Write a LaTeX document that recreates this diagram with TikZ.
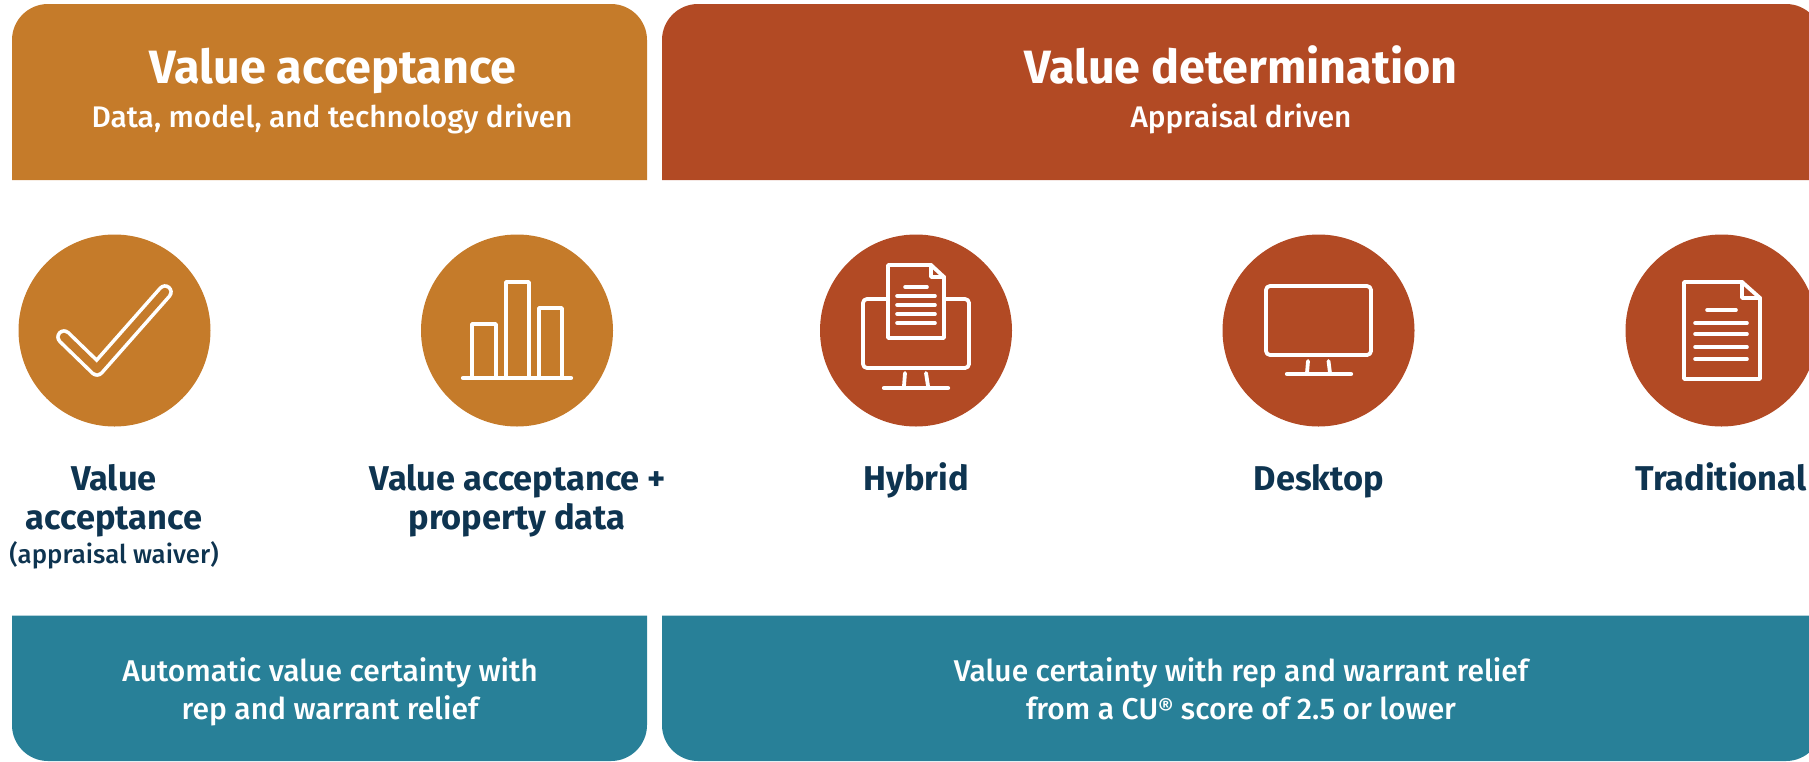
\documentclass[tikz,border=0pt]{standalone}
\usepackage{fontspec}
\setmainfont{Fira Sans}
\newfontfamily\medfont{Fira Sans Medium}
\definecolor{ochre}{HTML}{C57B2A}
\definecolor{rust}{HTML}{B24A24}
\definecolor{teal}{HTML}{288098}
\definecolor{navy}{HTML}{0E3450}
\tikzset{
  disc/.style={circle,minimum size=192pt,inner sep=0pt},
  ttl/.style={anchor=base,text=white,font=\fontsize{46.7}{50}\selectfont\bfseries,inner sep=0pt},
  sub/.style={anchor=base,text=white,font=\fontsize{29.8}{34}\selectfont\medfont,inner sep=0pt},
  lab/.style={anchor=base,text=navy,font=\fontsize{34.4}{40}\selectfont\bfseries,inner sep=0pt},
  lnote/.style={anchor=base,text=navy,font=\fontsize{25.8}{30}\selectfont\medfont,inner sep=0pt},
  foot/.style={anchor=base,text=white,font=\fontsize{30}{38}\selectfont\medfont,inner sep=0pt},
  icon/.style={draw=white,line width=3.8pt,line join=round,line cap=round},
  iconbar/.style={draw=white,line width=4.2pt,line cap=round}
}
\begin{document}
\begin{tikzpicture}[x=1pt,y=-1pt]
\useasboundingbox (0,0) rectangle (1809,761);
\clip (0,0) rectangle (1809,761);
% bands
\fill[ochre] (12,180) [rounded corners=36pt] -- (12,4) -- (647,4) [sharp corners] -- (647,180) -- cycle;
\fill[rust] (662,180) [rounded corners=36pt] -- (662,4) -- (1822,4) -- (1822,92) [sharp corners] -- (1822,180) -- cycle;
\fill[teal] (12,615.5) [rounded corners=36pt] -- (12,761) -- (647,761) [sharp corners] -- (647,615.5) -- cycle;
\fill[teal] (662,615.5) [rounded corners=36pt] -- (662,761) -- (1822,761) -- (1822,690) [sharp corners] -- (1822,615.5) -- cycle;
% header texts
\node[ttl] (t1) at (333,83) {Value acceptance};
\node[sub] (s1) at (332,127) {Data, model, and technology driven};
\node[ttl] (t2) at (1241,83) {Value determination};
\node[sub] (s2) at (1241,127) {Appraisal driven};
% discs
\node[disc,fill=ochre] (d1) at (114.5,330.5) {};
\node[disc,fill=ochre] (d2) at (517,330.5) {};
\node[disc,fill=rust] (d3) at (916,330.5) {};
\node[disc,fill=rust] (d4) at (1318.5,330.5) {};
\node[disc,fill=rust] (d5) at (1721.5,330.5) {};
% check
\draw[draw=white,line width=3.6pt,double=ochre,double distance=8.5pt,line join=round,line cap=round]
  (165,292) -- (97,369) -- (64,337);
% bars
\draw[icon,line cap=butt] (472,378) -- (472,324) -- (496,324) -- (496,378);
\draw[icon,line cap=butt] (506,378) -- (506,282) -- (529,282) -- (529,378);
\draw[icon,line cap=butt] (539,378) -- (539,308) -- (562,308) -- (562,378);
\draw[iconbar] (463,378) -- (571,378);
% hybrid
\draw[icon,rounded corners=4pt] (863,299) rectangle (969,368);
\filldraw[icon,fill=rust] (888,265) -- (931,265) -- (944,277) -- (944,338) -- (888,338) -- cycle;
\draw[icon] (931,265) -- (931,277) -- (944,277);
\foreach \yy/\xa/\xb in {287/905/927,296/897/935,305/897/935,314/897/935,323/897/935}
  \draw[iconbar,line width=3.6pt] (\xa,\yy) -- (\xb,\yy);
\draw[icon] (905,373) -- (904,386);
\draw[icon] (926,373) -- (928,386);
\draw[iconbar] (884,388) -- (948,388);
% desktop
\draw[icon,rounded corners=4pt] (1266,286) rectangle (1371,355);
\draw[icon] (1308,361) -- (1307,373);
\draw[icon] (1328.5,361) -- (1330,373);
\draw[iconbar] (1287,374) -- (1351,374);
% traditional
\draw[icon] (1684,282) -- (1742,282) -- (1760,298) -- (1760,379) -- (1684,379) -- cycle;
\draw[icon] (1742,282) -- (1742,298) -- (1760,298);
\foreach \yy/\xa/\xb in {310/1707/1736,323/1695/1747,334/1695/1747,347/1695/1747,359/1695/1747}
  \draw[iconbar,line width=3.6pt] (\xa,\yy) -- (\xb,\yy);
% labels
\node[lab] (l1a) at (114,490) {Value};
\node[lab] (l1b) at (114,529) {acceptance};
\node[lnote] (l1c) at (114,563) {(appraisal waiver)};
\node[lab] (l2a) at (518,490) {Value acceptance +};
\node[lab] (l2b) at (517,529) {property data};
\node[lab] (l3) at (916,490) {Hybrid};
\node[lab] (l4) at (1319,490) {Desktop};
\node[lab] (l5) at (1721,490) {Traditional};
% footers
\node[foot] (f1a) at (330,681) {Automatic value certainty with};
\node[foot] (f1b) at (330,719) {rep and warrant relief};
\node[foot] (f2a) at (1241,681) {Value certainty with rep and warrant relief};
\node[foot] (f2b) at (1241,719) {from a CU{\fontsize{24}{24}\selectfont\raisebox{0.12em}{®}} score of 2.5 or lower};
\end{tikzpicture}
\end{document}
